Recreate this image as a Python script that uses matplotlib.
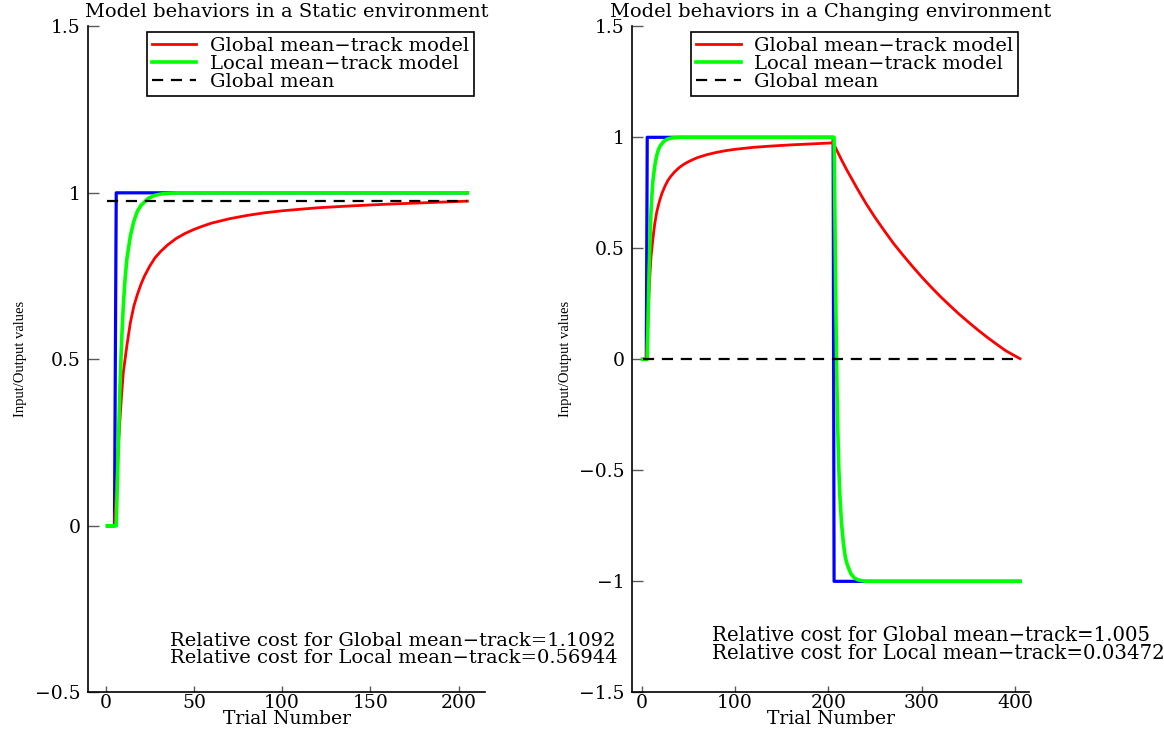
import matplotlib
matplotlib.use("Agg")
import matplotlib.pyplot as plt
from matplotlib.lines import Line2D

plt.rcParams['font.family'] = ['DejaVu Serif']

# input sequence (blue)
static_input_x = [1, 5, 6, 205]
static_input_y = [0, 0, 1, 1]
changing_input_x = [1, 5, 6, 205, 206, 405]
changing_input_y = [0, 0, 1, 1, -1, -1]

# global mean-track model (red)
global_x = [1, 5, 6, 7, 8, 9, 10, 11, 12, 14, 16, 18, 20, 22, 25, 28, 31, 35,
            40, 45, 50, 55, 60, 70, 80, 90, 100, 120, 140, 160, 180, 205]
global_static = [0, 0, 0.1, 0.22, 0.31, 0.39, 0.46, 0.5, 0.54, 0.61, 0.66,
                 0.695, 0.725, 0.75, 0.78, 0.805, 0.823, 0.843, 0.863, 0.878,
                 0.89, 0.9, 0.909, 0.922, 0.932, 0.94, 0.946, 0.955, 0.961,
                 0.966, 0.97, 0.975]
global_after_x = [206, 210, 215, 220, 230, 240, 250, 260, 270, 280, 290, 300,
                  310, 320, 330, 340, 350, 360, 370, 380, 390, 405]
global_after = [0.967, 0.932, 0.89, 0.85, 0.775, 0.703, 0.638, 0.578, 0.52,
                0.468, 0.418, 0.37, 0.325, 0.282, 0.242, 0.203, 0.167, 0.132,
                0.099, 0.068, 0.038, 0.003]

# local mean-track model (green)
local_x = [1, 6, 7, 8, 9, 10, 11, 12, 14, 16, 18, 20, 24, 28, 32, 40, 205]
local_static = [0, 0, 0.2, 0.4, 0.55, 0.66, 0.74, 0.8, 0.87, 0.915, 0.945,
                0.962, 0.983, 0.993, 0.997, 1, 1]
local_after_x = [206, 207, 208, 209, 210, 211, 212, 214, 216, 218, 220, 224,
                 228, 232, 240, 405]
local_after = [1, 0.6, 0.2, -0.1, -0.32, -0.48, -0.6, -0.74, -0.83, -0.89,
               -0.924, -0.966, -0.986, -0.994, -1, -1]

# global mean (dashed)
mean_static_x = [1, 205]
mean_static_y = [0.976, 0.976]
mean_changing_x = [1, 405]
mean_changing_y = [0, 0]

titles = ["Model behaviors in a Static environment",
          "Model behaviors in a Changing environment"]
legend_labels = ["Global mean\u2212track model", "Local mean\u2212track model",
                 "Global mean"]
cost_static = ["Relative cost for Global mean\u2212track=1.1092",
               "Relative cost for Local mean\u2212track=0.56944"]
cost_changing = ["Relative cost for Global mean\u2212track=1.005",
                 "Relative cost for Local mean\u2212track=0.03472"]

static_yticks = [-0.5, 0, 0.5, 1, 1.5]
static_ylabels = ["\u22120.5", "0", "0.5", "1", "1.5"]
changing_yticks = [-1.5, -1, -0.5, 0, 0.5, 1, 1.5]
changing_ylabels = ["\u22121.5", "\u22121", "\u22120.5", "0", "0.5", "1", "1.5"]
static_xticks = [0, 50, 100, 150, 200]
changing_xticks = [0, 100, 200, 300, 400]

fig = plt.figure(figsize=(11.64, 7.29), dpi=100)
ax1 = fig.add_axes([0.0756, 0.0503, 0.3411, 0.9136])
ax2 = fig.add_axes([0.5432, 0.0503, 0.3411, 0.9136])

blue = (0, 0, 1)
red = (1, 0, 0)
green = (0, 1, 0)
dash = (0, (5, 3.5))
fs = 13.5


def style_axes(ax, xticks, yticks, ylabels, xlim, ylim, title):
    ax.set_xlim(*xlim)
    ax.set_ylim(*ylim)
    ax.set_xticks(xticks)
    ax.set_xticklabels([str(t) for t in xticks])
    ax.set_yticks(yticks)
    ax.set_yticklabels(ylabels)
    for s in ['top', 'right']:
        ax.spines[s].set_visible(False)
    for s in ['left', 'bottom']:
        ax.spines[s].set_linewidth(1.2)
    ax.tick_params(axis='y', direction='in', length=8, width=1, color='0.35',
                   pad=5.5, labelsize=fs)
    ax.tick_params(axis='x', direction='in', length=4.3, width=1, color='0.35',
                   pad=1, labelsize=fs)
    ax.text(0.5, 1.014, title, transform=ax.transAxes, ha='center',
            va='baseline', fontsize=14)
    ax.text(0.5, -0.0476, "Trial Number", transform=ax.transAxes,
            ha='center', va='baseline', fontsize=fs)
    ax.set_ylabel("Input/Output values", family='Liberation Serif',
                  fontsize=10.5)
    ax.yaxis.set_label_coords(-0.153, 0.5)


def add_legend(ax):
    handles = [Line2D([], [], color=red, lw=2),
               Line2D([], [], color=green, lw=2.6),
               Line2D([], [], color='black', lw=1.6, linestyle=dash)]
    leg = ax.legend(handles, legend_labels, loc='upper right',
                    bbox_to_anchor=(0.972, 0.991), fontsize=14, frameon=True,
                    fancybox=False, edgecolor='black', framealpha=1,
                    borderpad=0.25, labelspacing=0.0, handlelength=2.3,
                    handletextpad=0.7, borderaxespad=0)
    leg.get_frame().set_linewidth(1.2)


# static environment
ax1.plot(static_input_x, static_input_y, color=blue, lw=2.3)
ax1.plot(global_x, global_static, color=red, lw=2)
ax1.plot(local_x, local_static, color=green, lw=2.6)
ax1.plot(mean_static_x, mean_static_y, color='black', lw=1.6, linestyle=dash)
style_axes(ax1, static_xticks, static_yticks, static_ylabels, (-10, 215),
           (-0.5, 1.5), titles[0])
add_legend(ax1)
ax1.text(36.4, -0.413, "\n".join(cost_static), fontsize=14, va='baseline',
         linespacing=0.95)

# changing environment
ax2.plot(changing_input_x, changing_input_y, color=blue, lw=2.3)
ax2.plot(global_x + global_after_x, global_static + global_after, color=red,
         lw=2)
ax2.plot(local_x + local_after_x, local_static + local_after, color=green,
         lw=2.6)
ax2.plot(mean_changing_x, mean_changing_y, color='black', lw=1.6,
         linestyle=dash)
style_axes(ax2, changing_xticks, changing_yticks, changing_ylabels,
           (-10, 415), (-1.5, 1.5), titles[1])
add_legend(ax2)
ax2.text(75, -1.350, "\n".join(cost_changing), fontsize=14.2, va='baseline',
         linespacing=0.95, clip_on=False)

fig.savefig("out.png", dpi=100)
